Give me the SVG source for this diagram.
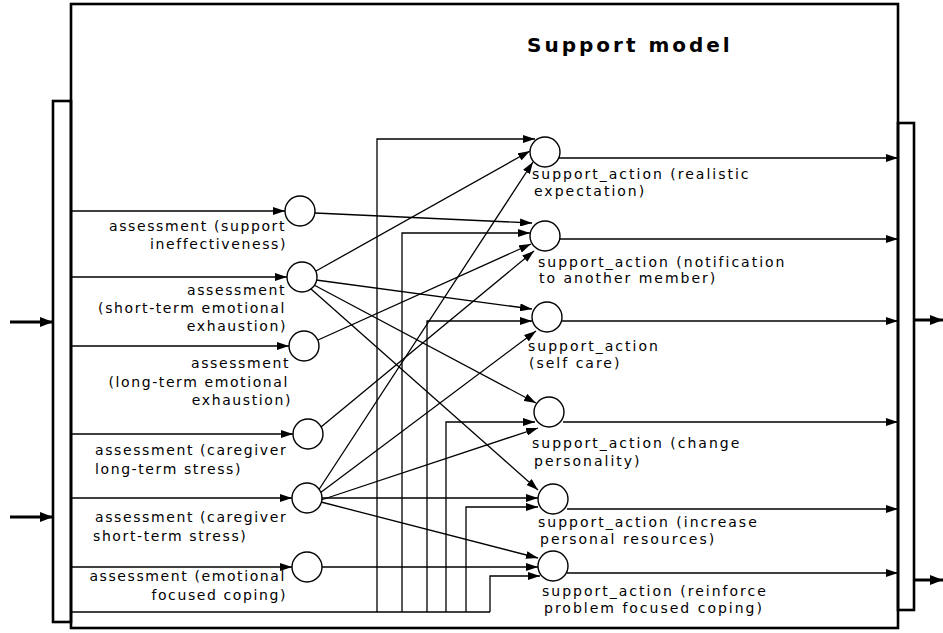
<svg xmlns="http://www.w3.org/2000/svg" width="943" height="633" viewBox="0 0 943 633">
<style>
.frame{fill:none;stroke:#000;stroke-width:2.6}
.c{fill:#fff;stroke:#000;stroke-width:1.4}
.e{fill:none;stroke:#000;stroke-width:1.3}
.io{fill:none;stroke:#000;stroke-width:3}
.t{font-family:"DejaVu Sans",sans-serif;font-size:14px;fill:#000}
.l{letter-spacing:1.6px}
.r{letter-spacing:2px}
.title{font-family:"DejaVu Sans",sans-serif;font-size:20px;font-weight:bold;letter-spacing:3px;fill:#000}
</style>
<defs>
<marker id="ah" markerWidth="12" markerHeight="8" refX="12" refY="4" orient="auto" markerUnits="userSpaceOnUse"><path d="M0,0 L12,4 L0,8 z" fill="#000"/></marker>
<marker id="ahb" markerWidth="13" markerHeight="10" refX="13" refY="5" orient="auto" markerUnits="userSpaceOnUse"><path d="M0,0 L13,5 L0,10 z" fill="#000"/></marker>
</defs>
<rect width="943" height="633" fill="#fff"/>
<g id="frame">
<rect class="frame" x="71" y="4" width="827" height="624"/>
<rect class="frame" x="53" y="101" width="18" height="521"/>
<rect class="frame" x="898" y="123" width="16" height="487"/>
<text class="title" x="527" y="52">Support model</text>
</g>
<g id="connectors">
<line class="io" x1="10" y1="322" x2="53" y2="322" marker-end="url(#ahb)"/>
<line class="io" x1="10" y1="517" x2="53" y2="517" marker-end="url(#ahb)"/>
<line class="io" x1="914" y1="320" x2="943" y2="320" marker-end="url(#ahb)"/>
<line class="io" x1="914" y1="580" x2="943" y2="580" marker-end="url(#ahb)"/>
<line class="e" x1="71" y1="211" x2="285" y2="211" marker-end="url(#ah)"/>
<line class="e" x1="71" y1="277" x2="287" y2="277" marker-end="url(#ah)"/>
<line class="e" x1="71" y1="346" x2="289" y2="346" marker-end="url(#ah)"/>
<line class="e" x1="71" y1="434" x2="293" y2="434" marker-end="url(#ah)"/>
<line class="e" x1="71" y1="498" x2="292" y2="498" marker-end="url(#ah)"/>
<line class="e" x1="71" y1="567" x2="292" y2="567" marker-end="url(#ah)"/>
<polyline class="e" points="71,612 490,612"/>
<polyline class="e" points="377,612 377,139 535,139" marker-end="url(#ah)"/>
<polyline class="e" points="402,612 402,233 530,233" marker-end="url(#ah)"/>
<polyline class="e" points="427,612 427,321 532,321" marker-end="url(#ah)"/>
<polyline class="e" points="446,612 446,422 535,422" marker-end="url(#ah)"/>
<polyline class="e" points="466,612 466,507 538,507" marker-end="url(#ah)"/>
<polyline class="e" points="490,612 490,576 540,576" marker-end="url(#ah)"/>
<line class="e" x1="315" y1="213" x2="532" y2="223" marker-end="url(#ah)"/>
<line class="e" x1="316" y1="271" x2="530" y2="151" marker-end="url(#ah)"/>
<line class="e" x1="316" y1="280" x2="532" y2="309" marker-end="url(#ah)"/>
<line class="e" x1="314" y1="285" x2="536" y2="403" marker-end="url(#ah)"/>
<line class="e" x1="311" y1="289" x2="538" y2="490" marker-end="url(#ah)"/>
<line class="e" x1="318" y1="340" x2="531" y2="244" marker-end="url(#ah)"/>
<line class="e" x1="321" y1="427" x2="534" y2="251" marker-end="url(#ah)"/>
<line class="e" x1="318" y1="491" x2="533" y2="162" marker-end="url(#ah)"/>
<line class="e" x1="320" y1="493" x2="536" y2="331" marker-end="url(#ah)"/>
<line class="e" x1="321" y1="500" x2="538" y2="428" marker-end="url(#ah)"/>
<line class="e" x1="322" y1="498" x2="538" y2="498" marker-end="url(#ah)"/>
<line class="e" x1="321" y1="502" x2="538" y2="558" marker-end="url(#ah)"/>
<line class="e" x1="322" y1="567" x2="538" y2="567" marker-end="url(#ah)"/>
<line class="e" x1="559" y1="158" x2="898" y2="158" marker-end="url(#ah)"/>
<line class="e" x1="559" y1="239" x2="898" y2="239" marker-end="url(#ah)"/>
<line class="e" x1="561" y1="321" x2="898" y2="321" marker-end="url(#ah)"/>
<line class="e" x1="563" y1="422" x2="898" y2="422" marker-end="url(#ah)"/>
<line class="e" x1="567" y1="509" x2="898" y2="509" marker-end="url(#ah)"/>
<line class="e" x1="567" y1="573" x2="898" y2="573" marker-end="url(#ah)"/>
</g>
<g id="a1"><circle class="c" cx="300" cy="211" r="15"/>
<text class="t l" text-anchor="end" x="286" y="231">assessment (support</text>
<text class="t l" text-anchor="end" x="287" y="249">ineffectiveness)</text></g>
<g id="a2"><circle class="c" cx="302" cy="277" r="15"/>
<text class="t l" text-anchor="end" x="286" y="295">assessment</text>
<text class="t l" text-anchor="end" x="286" y="313">(short-term emotional</text>
<text class="t l" text-anchor="end" x="287" y="331">exhaustion)</text></g>
<g id="a3"><circle class="c" cx="304" cy="346" r="15"/>
<text class="t l" text-anchor="end" x="290" y="368">assessment</text>
<text class="t l" text-anchor="end" x="289" y="387">(long-term emotional</text>
<text class="t l" text-anchor="end" x="292" y="405">exhaustion)</text></g>
<g id="a4"><circle class="c" cx="308" cy="434" r="15"/>
<text class="t l" x="95" y="455">assessment (caregiver</text>
<text class="t l" x="95" y="474">long-term stress)</text></g>
<g id="a5"><circle class="c" cx="307" cy="498" r="15"/>
<text class="t l" x="95" y="522">assessment (caregiver</text>
<text class="t l" x="93" y="541">short-term stress)</text></g>
<g id="a6"><circle class="c" cx="307" cy="567" r="15"/>
<text class="t l" text-anchor="end" x="286" y="581">assessment (emotional</text>
<text class="t l" text-anchor="end" x="287" y="600">focused coping)</text></g>
<g id="s1"><circle class="c" cx="545" cy="152" r="15"/>
<text class="t r" x="532" y="179">support_action (realistic</text>
<text class="t r" x="534" y="196">expectation)</text></g>
<g id="s2"><circle class="c" cx="545" cy="236" r="15"/>
<text class="t r" x="538" y="267">support_action (notification</text>
<text class="t r" x="539" y="283">to another member)</text></g>
<g id="s3"><circle class="c" cx="547" cy="317" r="15"/>
<text class="t r" x="528" y="351">support_action</text>
<text class="t r" x="529" y="368">(self care)</text></g>
<g id="s4"><circle class="c" cx="549" cy="412" r="15"/>
<text class="t r" x="532" y="448">support_action (change</text>
<text class="t r" x="534" y="466">personality)</text></g>
<g id="s5"><circle class="c" cx="553" cy="499" r="15"/>
<text class="t r" x="538" y="527">support_action (increase</text>
<text class="t r" x="540" y="544">personal resources)</text></g>
<g id="s6"><circle class="c" cx="553" cy="566" r="15"/>
<text class="t r" x="542" y="596">support_action (reinforce</text>
<text class="t r" x="544" y="613">problem focused coping)</text></g>
</svg>
